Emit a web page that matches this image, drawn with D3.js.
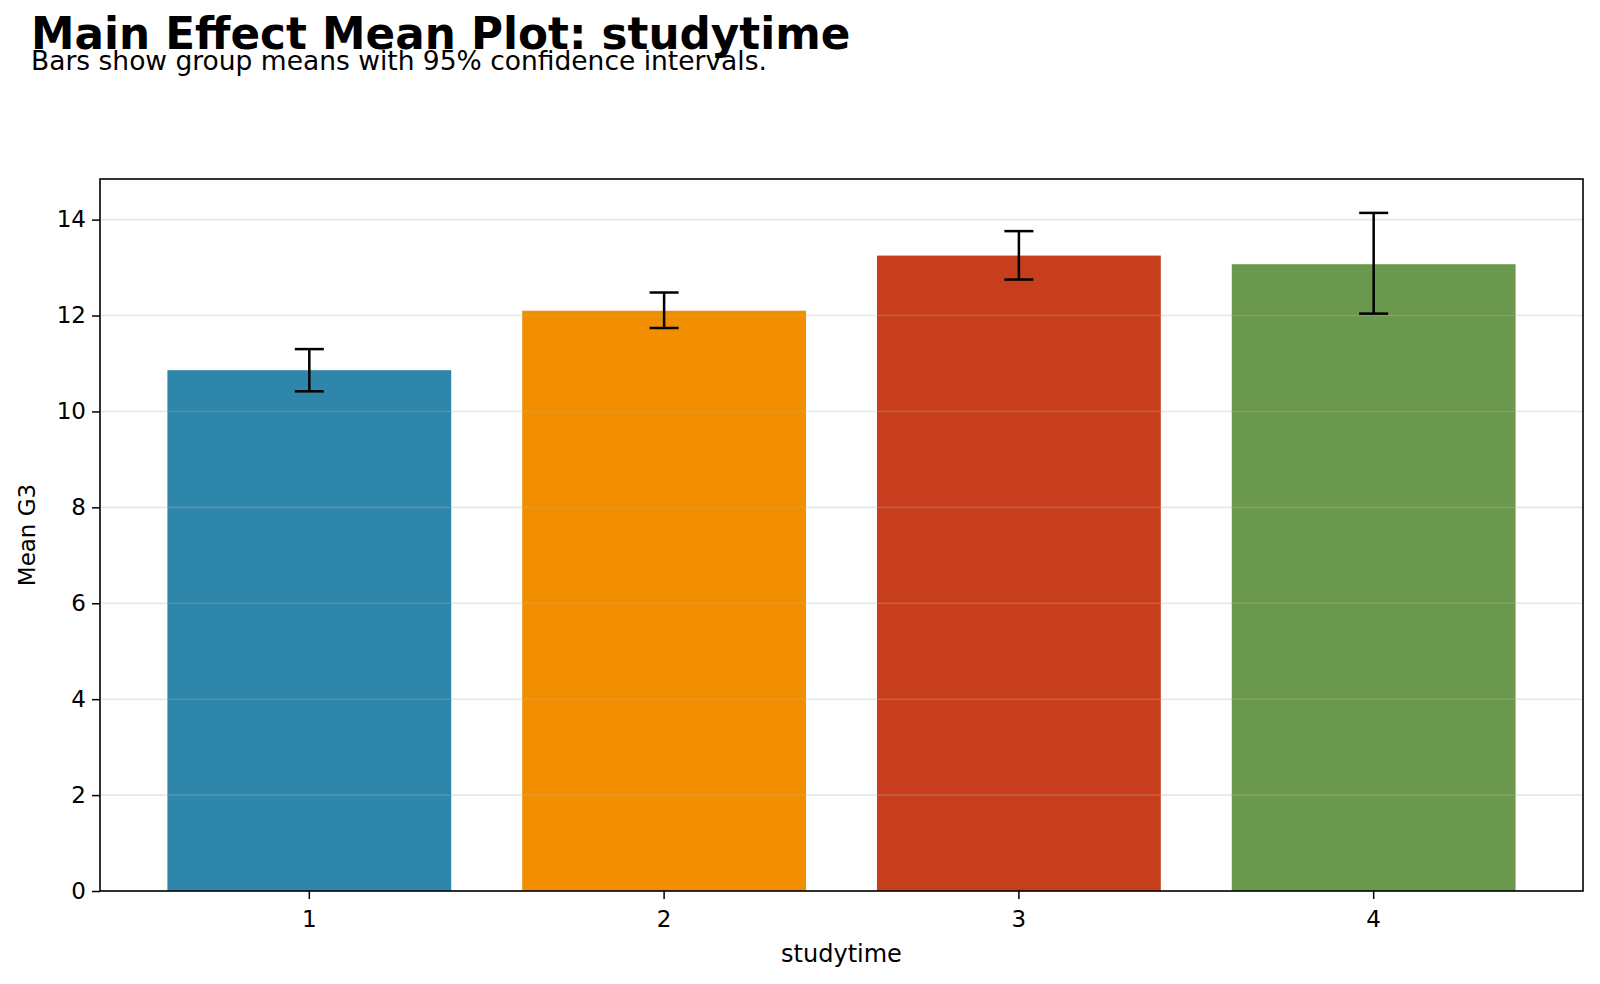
<!DOCTYPE html>
<html>
<head>
<meta charset="utf-8">
<script src="https://cdn.jsdelivr.net/npm/d3@7"></script>
<style>
  body { margin: 0; background: #fff; }
  text { font-family: "DejaVu Sans", sans-serif; fill: #000; }
</style>
</head>
<body>
<div id="chart"></div>
<script>
var categories = ['1', '2', '3', '4'];
var means = [10.86, 12.10, 13.25, 13.07];
var ciLower = [10.42, 11.74, 12.75, 12.04];
var ciUpper = [11.30, 12.48, 13.76, 14.14];
var barColors = ['#2E86AB', '#F18F01', '#C73E1D', '#6A994E'];
var yTicks = [0, 2, 4, 6, 8, 10, 12, 14];

var svgWidth = 1600;
var svgHeight = 984;

var svg = d3.select("#chart")
  .append("svg")
  .attr("width", svgWidth)
  .attr("height", svgHeight);

var margin = { top: 179, right: 17, bottom: 93, left: 100 };
var chartWidth = svgWidth - margin.left - margin.right;
var chartHeight = svgHeight - margin.top - margin.bottom;

// same spacing as matplotlib bars of width 0.8 with 5% margins
var xScale = d3.scaleBand()
  .domain(categories)
  .range([0, chartWidth])
  .paddingInner(0.2)
  .paddingOuter(0.19);

var yMax = d3.max(ciUpper) * 1.05;
var yScale = d3.scaleLinear()
  .domain([0, yMax])
  .range([chartHeight, 0]);

var chart = svg.append("g")
  .attr("transform", "translate(" + margin.left + "," + margin.top + ")");

// bars
chart.selectAll(".bar")
  .data(means)
  .enter()
  .append("rect")
  .attr("class", "bar")
  .attr("x", (d, i) => xScale(categories[i]))
  .attr("y", d => yScale(d))
  .attr("width", xScale.bandwidth())
  .attr("height", d => chartHeight - yScale(d))
  .attr("fill", (d, i) => barColors[i]);

// grid on top, faint
chart.selectAll(".grid")
  .data(yTicks)
  .enter()
  .append("line")
  .attr("class", "grid")
  .attr("x1", 0)
  .attr("x2", chartWidth)
  .attr("y1", d => yScale(d))
  .attr("y2", d => yScale(d))
  .attr("stroke", "#b0b0b0")
  .attr("stroke-opacity", 0.3)
  .attr("stroke-width", 1.6);

// error bars
var capHalf = 14.5;
var err = chart.selectAll(".err")
  .data(means)
  .enter()
  .append("g")
  .attr("class", "err")
  .attr("transform", (d, i) => "translate(" + (xScale(categories[i]) + xScale.bandwidth() / 2) + ",0)");

err.append("line")
  .attr("x1", 0).attr("x2", 0)
  .attr("y1", (d, i) => yScale(ciLower[i]))
  .attr("y2", (d, i) => yScale(ciUpper[i]));
err.append("line")
  .attr("x1", -capHalf).attr("x2", capHalf)
  .attr("y1", (d, i) => yScale(ciUpper[i]))
  .attr("y2", (d, i) => yScale(ciUpper[i]));
err.append("line")
  .attr("x1", -capHalf).attr("x2", capHalf)
  .attr("y1", (d, i) => yScale(ciLower[i]))
  .attr("y2", (d, i) => yScale(ciLower[i]));
err.selectAll("line")
  .attr("stroke", "#000")
  .attr("stroke-width", 2.5);

// axes
var xAxis = d3.axisBottom(xScale).tickSize(8).tickPadding(12);
var yAxis = d3.axisLeft(yScale).tickValues(yTicks).tickSize(8).tickPadding(6);

var gx = chart.append("g")
  .attr("class", "x axis")
  .attr("transform", "translate(0," + chartHeight + ")")
  .call(xAxis);

var gy = chart.append("g")
  .attr("class", "y axis")
  .call(yAxis);

[gx, gy].forEach(function (g) {
  g.select(".domain").remove();
  g.selectAll(".tick line").attr("stroke", "#000").attr("stroke-width", 1.5);
  g.selectAll(".tick text")
    .attr("font-size", 23)
    .attr("font-family", "DejaVu Sans")
    .attr("fill", "#000");
});

// frame
chart.append("rect")
  .attr("x", 0)
  .attr("y", 0)
  .attr("width", chartWidth)
  .attr("height", chartHeight)
  .attr("fill", "none")
  .attr("stroke", "#000")
  .attr("stroke-width", 1.6);

// axis labels
svg.append("text")
  .attr("x", margin.left + chartWidth / 2)
  .attr("y", 962)
  .attr("text-anchor", "middle")
  .attr("font-size", 24)
  .text("studytime");

svg.append("text")
  .attr("transform", "translate(35," + (margin.top + chartHeight / 2) + ") rotate(-90)")
  .attr("text-anchor", "middle")
  .attr("font-size", 23)
  .text("Mean G3");

// titles (the reference has them touching)
svg.append("text")
  .attr("x", 31)
  .attr("y", 49)
  .attr("font-size", 43.7)
  .attr("font-weight", "bold")
  .text("Main Effect Mean Plot: studytime");

svg.append("text")
  .attr("x", 31)
  .attr("y", 70)
  .attr("font-size", 26.5)
  .text("Bars show group means with 95% confidence intervals.");
</script>
</body>
</html>
